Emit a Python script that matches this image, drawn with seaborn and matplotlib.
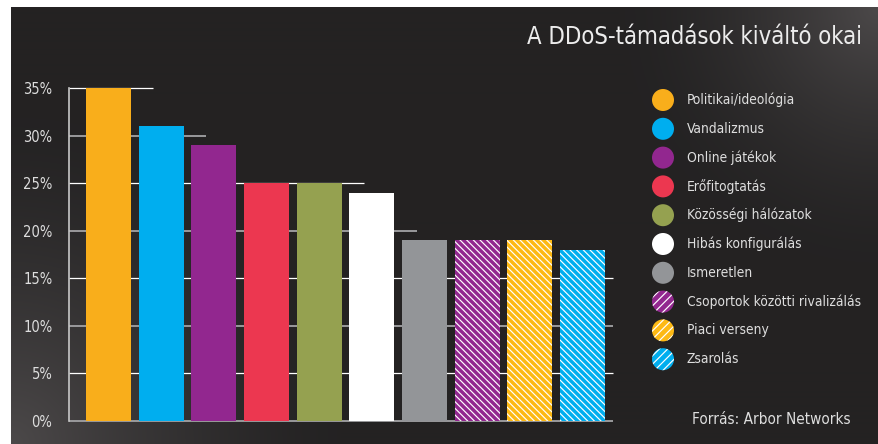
import numpy as np
import matplotlib.pyplot as plt
import seaborn as sns
from matplotlib import font_manager
from matplotlib.patches import Circle

# Data
categories = ["Politikai/ideológia", "Vandalizmus", "Online játékok", "Erőfitogtatás",
              "Közösségi hálózatok", "Hibás konfigurálás", "Ismeretlen",
              "Csoportok közötti rivalizálás", "Piaci verseny", "Zsarolás"]
values = [35, 31, 29, 25, 25, 24, 19, 19, 19, 18]
colors = ["#F9AE1B", "#00AEEF", "#92278F", "#EC3750", "#95A150",
          "#FFFFFF", "#939598", "#92278F", "#FDB913", "#00AEEF"]
hatched = [False, False, False, False, False, False, False, True, True, True]
yticks = [0, 5, 10, 15, 20, 25, 30, 35]
title = "A DDoS-támadások kiváltó okai"
source = "Forrás: Arbor Networks"

sns.set_theme(style="white")
# pick a condensed face if one is installed
names = {f.name for f in font_manager.fontManager.ttflist}
stretches = {(f.name, f.stretch) for f in font_manager.fontManager.ttflist}
if "Liberation Sans Narrow" in names:
    plt.rcParams["font.family"] = ["Liberation Sans Narrow", "DejaVu Sans"]
    scale = 1.05
elif ("DejaVu Sans", "condensed") in stretches or ("DejaVu Sans", 75) in stretches:
    plt.rcParams["font.family"] = ["DejaVu Sans"]
    plt.rcParams["font.stretch"] = "condensed"
    scale = 1.0
else:
    plt.rcParams["font.family"] = ["Roboto", "DejaVu Sans"]
    scale = 0.92
plt.rcParams["hatch.linewidth"] = 0.85
txt_col = "#dedede"

W, H = 879, 444
fig = plt.figure(figsize=(W / 100, H / 100), dpi=100)
fig.patch.set_facecolor("white")

# background panel with gradient
bg = fig.add_axes([0, 0, 1, 1])
bg.set_xlim(0, W)
bg.set_ylim(H, 0)
bg.axis("off")
xx, yy = np.meshgrid(np.arange(W), np.arange(H))
d_bl = np.hypot(xx - 11, yy - H) / 330.0
d_tr = np.hypot(xx - W, yy - 8) / 260.0
lum = 0x24 + 0x28 * np.clip(1 - d_bl, 0, 1) ** 1.4 + 0x28 * np.clip(1 - d_tr, 0, 1) ** 1.6
img = np.dstack([lum, lum * 0.96, lum * 0.97]) / 255.0
img = np.clip(img, 0, 1)
img[:8, :, :] = 1
img[:, :11, :] = 1
bg.imshow(img, extent=(0, W, H, 0), aspect="auto", zorder=0)

# main axes
x0, x1, y0, y1 = 69, 613, 421, 88
pitch = 52.67
ax = fig.add_axes([x0 / W, (H - y0) / H, (x1 - x0) / W, (y0 - y1) / H])
ax.patch.set_alpha(0)
sns.barplot(x=categories, y=values, hue=categories, palette=colors, legend=False,
            width=0.854, saturation=1, ax=ax, zorder=3)
xlo = -(108.5 - x0) / pitch
xhi = (x1 - 108.5) / pitch
ax.set_xlim(xlo, xhi)
ax.set_ylim(0, 35)

for p in ax.patches:
    i = int(round(p.get_x() + p.get_width() / 2))
    p.set_linewidth(0)
    if hatched[i]:
        p.set_edgecolor("white")
        p.set_hatch("\\\\\\\\\\")

# staircase gridlines
for lev in yticks:
    idx = max(i for i, v in enumerate(values) if v >= lev)
    end = min(idx + 0.85, xhi)
    col = "white" if lev % 10 else "#9a9a9c"
    lw = 0.9 if lev % 10 else 1.4
    ax.plot([xlo, end], [lev, lev], color=col, lw=lw, zorder=1, clip_on=False,
            solid_capstyle="butt")

for s in ["top", "right", "bottom"]:
    ax.spines[s].set_visible(False)
ax.spines["left"].set_color("#c8c8c8")
ax.spines["left"].set_linewidth(1.2)
ax.set_yticks(yticks)
ax.set_yticklabels([f"{t}%" for t in yticks])
ax.set_xticks([])
ax.tick_params(axis="y", length=0, pad=12, labelsize=10.5 * scale, labelcolor=txt_col)
ax.set_xlabel("")
ax.set_ylabel("")

# title and source
bg.text(862, 37, title, ha="right", va="center", fontsize=17.1 * scale, color="#ececec")
bg.text(851, 419, source, ha="right", va="center", fontsize=11 * scale, color=txt_col)

# legend
for i, (lab, c) in enumerate(zip(categories, colors)):
    cy = 100 + i * 28.8
    circ = Circle((663, cy), 11, facecolor=c, linewidth=0, zorder=3)
    if hatched[i]:
        circ.set_edgecolor("white")
        circ.set_linewidth(0)
        circ.set_hatch("////")
    bg.add_patch(circ)
    bg.text(687, cy, lab, ha="left", va="center", fontsize=9.9 * scale, color=txt_col)

fig.savefig("out.png", dpi=100, facecolor=fig.get_facecolor())
